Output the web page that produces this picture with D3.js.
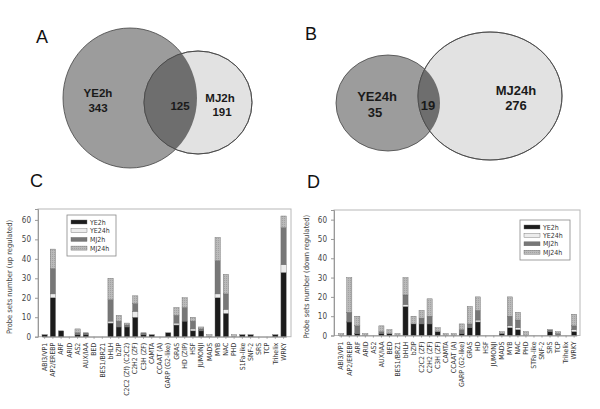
<!DOCTYPE html>
<html><head><meta charset="utf-8">
<script src="https://cdn.jsdelivr.net/npm/d3@7"></script>
<style>
html,body{margin:0;padding:0;background:#fff;}
svg{display:block;}
</style></head>
<body>
<svg id="c" width="600" height="409"></svg>
<script>
// ---------- DATA ----------
const seriesNames = ["YE2h","YE24h","MJ2h","MJ24h"];
const categoriesUp = ["ABI3/VP1","AP2/EREBP","ARF","ARID","AS2","AUX/IAA","BED","BES1/BRZ1","bHLH","bZIP","C2C2 (Zf) (C2C2)","C2H2 (ZF)","C3H (ZF)","CAMTA","CCAAT (A)","GARP (G2-like)","GRAS","HD (ZIP)","HSF","JUMONJI","MADS","MYB","NAC","PHD","S1Fa-like","SNF-2","SRS","TCP","Trihelix","WRKY"];
const upYE2h  = [1,20,3,0,1,1,0,0,7,5,5,10,1,1,0,2,6,8,3,3,0,20,12,0,1,1,0,0,1,33];
const upYE24h = [0,2,0,0,0,0,0,0,1,0,0,3,0,0,0,0,1,0,1,0,0,2,2,0,0,0,0,0,0,4];
const upMJ2h  = [0,13,0,0,1,1,0,0,11,3,1,4,1,0,0,0,4,7,4,1,0,17,8,0,0,0,0,0,0,19];
const upMJ24h = [0,10,0,0,2,0,0,0,11,3,1,4,0,0,0,0,4,5,2,1,1,12,10,1,0,0,0,0,0,6];

const categoriesDown = ["ABI3/VP1","AP2/EREBP","ARF","ARID","AS2","AUX/IAA","BED","BES1/BRZ1","bHLH","bZIP","C2C2 (ZF)","C2H2 (ZF)","C3H (ZF)","CAMTA","CCAAT (A)","GARP (G2-like)","GRAS","HD","HSF","JUMONJI","MADS","MYB","NAC","PHD","STFa-like","SNF-2","SRS","TCP","Trihelix","WRKY"];
const downYE2h  = [0,7,1,0,0,1,1,0,15,6,6,6,2,0,0,1,4,7,0,0,1,4,3,0,0,0,2,0,0,2];
const downYE24h = [0,0,0,0,0,0,0,0,1,0,0,0,0,0,0,0,0,1,0,0,0,1,1,0,0,0,0,0,0,1];
const downMJ2h  = [0,5,4,0,0,1,0,0,5,0,3,4,0,0,0,2,2,5,0,0,0,5,4,0,0,0,1,1,0,2];
const downMJ24h = [1,18,5,1,0,3,2,1,9,4,4,9,2,1,1,3,9,7,0,0,1,10,4,2,0,0,0,1,0,6];

const yTicks = [0,10,20,30,40,50,60];

// ---------- STYLE ----------
const colors = {YE2h:"#1c1c1c", YE24h:"#ececec", MJ2h:"#777777", MJ24h:"url(#dots)"};
const svg = d3.select("#c");
const defs = svg.append("defs");
const pat = defs.append("pattern").attr("id","dots").attr("patternUnits","userSpaceOnUse")
  .attr("width",2).attr("height",2);
pat.append("rect").attr("width",2).attr("height",2).attr("fill","#bababa");
pat.append("rect").attr("width",1).attr("height",1).attr("fill","#a2a2a2");

// ---------- VENN ----------
function venn(opts){
  const g = svg.append("g");
  const id = opts.id;
  defs.append("clipPath").attr("id",id).append("ellipse")
    .attr("cx",opts.a.cx).attr("cy",opts.a.cy).attr("rx",opts.a.rx).attr("ry",opts.a.ry);
  g.append("ellipse").attr("cx",opts.a.cx).attr("cy",opts.a.cy).attr("rx",opts.a.rx).attr("ry",opts.a.ry)
    .attr("fill",opts.a.fill).attr("stroke","#444").attr("stroke-width",0.8);
  g.append("ellipse").attr("cx",opts.b.cx).attr("cy",opts.b.cy).attr("rx",opts.b.rx).attr("ry",opts.b.ry)
    .attr("fill",opts.b.fill).attr("stroke","#444").attr("stroke-width",0.8);
  g.append("ellipse").attr("cx",opts.b.cx).attr("cy",opts.b.cy).attr("rx",opts.b.rx).attr("ry",opts.b.ry)
    .attr("fill","#6e6e6e").attr("clip-path",`url(#${id})`);
  g.append("ellipse").attr("cx",opts.b.cx).attr("cy",opts.b.cy).attr("rx",opts.b.rx).attr("ry",opts.b.ry)
    .attr("fill","none").attr("stroke","#444").attr("stroke-width",0.8);
  opts.texts.forEach(t=>{
    g.append("text").attr("x",t[1]).attr("y",t[2]).attr("text-anchor","middle")
      .attr("font-family","Liberation Sans, Arial, sans-serif").attr("font-weight","bold")
      .attr("font-size",opts.fs).attr("fill","#1a1a1a").text(t[0]);
  });
}
venn({id:"clipA", fs:11.5,
  a:{cx:130,cy:98,rx:67,ry:70,fill:"#9c9c9c"},
  b:{cx:198,cy:102.5,rx:54,ry:51.5,fill:"#e2e2e2"},
  texts:[["YE2h",98,97],["343",98,112],["125",180,110],["MJ2h",220,102],["191",222,116]]});
venn({id:"clipB", fs:13,
  a:{cx:388,cy:103,rx:52,ry:48,fill:"#9c9c9c"},
  b:{cx:490,cy:96,rx:72,ry:64,fill:"#e2e2e2"},
  texts:[["YE24h",377,101],["35",375,117],["19",428,110],["MJ24h",516,95],["276",516,110]]});

// Panel letters
[["A",36,43],["B",305,40],["C",30,187],["D",307,188]].forEach(l=>{
  svg.append("text").attr("x",l[1]).attr("y",l[2]).attr("font-family","Liberation Sans, Arial, sans-serif")
    .attr("font-size",18).attr("fill","#111").text(l[0]);
});

// ---------- BAR PANELS ----------
const condFont = "DejaVu Sans Condensed, Liberation Sans Narrow, sans-serif";
function barPanel(p){
  const g = svg.append("g");
  const x = d3.scaleBand().domain(p.cats).range(p.xr).paddingInner(0.36).paddingOuter(0);
  const y = d3.scaleLinear().domain([0,p.ymax]).range([p.y0,p.ytop]);
  g.append("rect").attr("x",p.frame[0]).attr("y",p.ytop).attr("width",p.frame[1]-p.frame[0])
    .attr("height",p.y0-p.ytop).attr("fill","none").attr("stroke","#b8b8b8").attr("stroke-width",1);
  const rows = p.cats.map((c,i)=>{const r={cat:c}; seriesNames.forEach((s,k)=>r[s]=p.vals[k][i]); return r;});
  const stack = d3.stack().keys(seriesNames)(rows);
  g.selectAll("g.s").data(stack).join("g").attr("class","s")
    .attr("fill",d=>colors[d.key])
    .selectAll("rect").data(d=>d.filter(v=>v[1]>v[0])).join("rect")
    .attr("x",d=>x(d.data.cat)).attr("width",x.bandwidth())
    .attr("y",d=>y(d[1])).attr("height",d=>y(d[0])-y(d[1]))
    .attr("stroke","#666").attr("stroke-width",0.4);
  const ya = g.append("g").attr("transform",`translate(${p.frame[0]},0)`)
    .call(d3.axisLeft(y).tickValues(yTicks).tickSize(3).tickPadding(4));
  ya.select(".domain").attr("stroke","#999");
  ya.selectAll(".tick line").attr("stroke","#999");
  ya.selectAll("text").attr("font-family",condFont).attr("font-size",8).attr("fill","#444");
  const xa = g.append("g").attr("transform",`translate(0,${p.y0})`)
    .call(d3.axisBottom(x).tickSize(2).tickPadding(3).tickSizeOuter(0));
  xa.select(".domain").attr("stroke","#999");
  xa.selectAll(".tick line").attr("stroke","#999");
  xa.selectAll("text").attr("font-family",condFont)
    .attr("font-size",6.9).attr("fill","#333")
    .attr("text-anchor","end").attr("dy","0.32em")
    .attr("transform","rotate(-90) translate(-6,0)").attr("x",0).attr("y",0);
  g.append("text").attr("transform",`translate(${p.ylx},${(p.y0+p.ytop)/2+4}) rotate(-90)`)
    .attr("text-anchor","middle").attr("font-family",condFont)
    .attr("font-size",7.5).attr("fill","#444").text(p.ylab);
  const L = p.leg;
  g.append("rect").attr("x",L.x).attr("y",L.y).attr("width",L.w).attr("height",L.h)
    .attr("fill","#fff").attr("stroke","#888").attr("stroke-width",0.8);
  seriesNames.forEach((s,i)=>{
    const yy = L.y+7+i*L.dy;
    g.append("rect").attr("x",L.x+4).attr("y",yy-2).attr("width",16).attr("height",4)
      .attr("fill",colors[s]).attr("stroke","#666").attr("stroke-width",0.4);
    g.append("text").attr("x",L.x+23).attr("y",yy+2.5).attr("font-family",condFont)
      .attr("font-size",7).attr("fill","#333").text(s);
  });
}
barPanel({cats:categoriesUp, vals:[upYE2h,upYE24h,upMJ2h,upMJ24h],
  xr:[42,286.2], frame:[38,291], y0:336.7, ytop:209, ymax:65.6, ylx:12,
  ylab:"Probe sets number (up regulated)", leg:{x:67,y:215,w:49,h:41,dy:8.7}});
barPanel({cats:categoriesDown, vals:[downYE2h,downYE24h,downMJ2h,downMJ24h],
  xr:[338.7,576.7], frame:[334,580], y0:335.5, ytop:210, ymax:65, ylx:309,
  ylab:"Probe sets number (down regulated)", leg:{x:520,y:220,w:50,h:40,dy:8.4}});
</script>
</body></html>
